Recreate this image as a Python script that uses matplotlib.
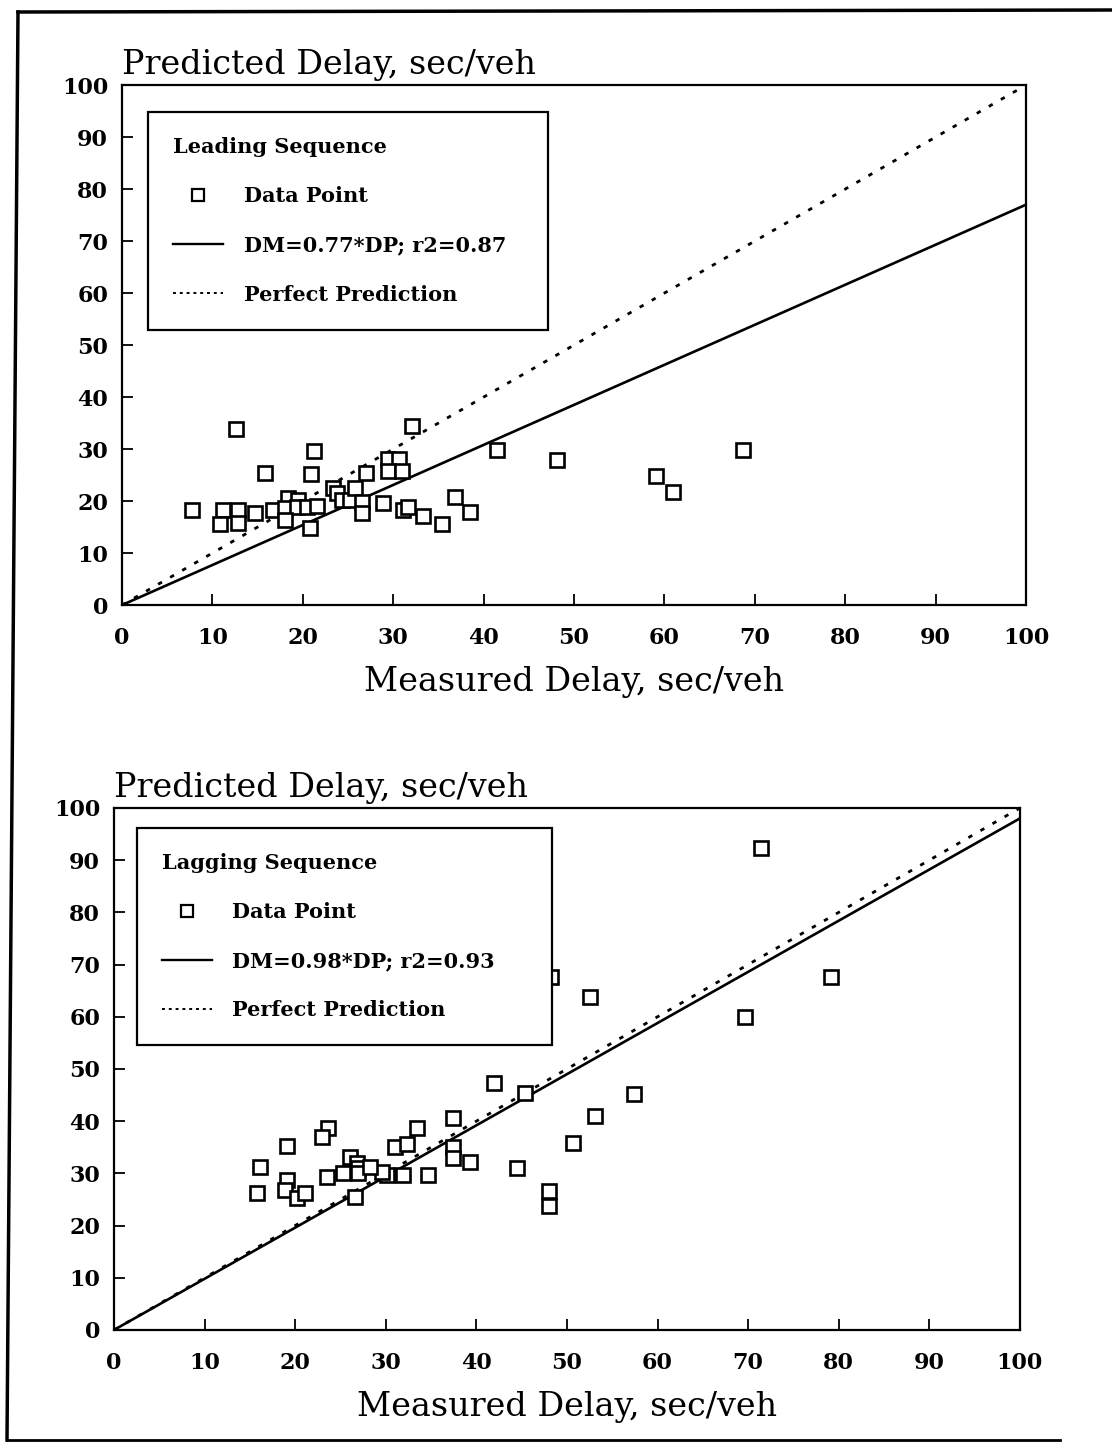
import matplotlib
matplotlib.use("Agg")
import matplotlib.pyplot as plt
from matplotlib.lines import Line2D

# leading sequence: measured vs predicted delay (sec/veh)
lead_measured = [7.7, 11.2, 12.8, 10.8, 12.8, 12.6, 14.7, 15.8, 16.7, 18.4, 19.5,
                 18.0, 19.4, 20.5, 21.6, 18.0, 20.8, 20.9, 21.2, 23.3, 23.8, 24.3,
                 25.2, 25.8, 26.5, 26.5, 27.0, 28.9, 29.4, 30.6, 29.4, 31.0, 31.1,
                 31.6, 32.1, 33.3, 35.4, 36.8, 38.5, 41.5, 48.1, 59.1, 60.9, 68.7]
lead_predicted = [18.3, 18.3, 18.3, 15.6, 15.8, 33.8, 17.7, 25.4, 18.3, 20.6, 20.2,
                  18.7, 18.8, 18.8, 19.0, 16.3, 14.8, 25.2, 29.6, 22.5, 21.5, 20.2,
                  20.2, 22.5, 19.8, 17.7, 25.4, 19.6, 28.1, 28.1, 25.8, 25.8, 18.3,
                  18.8, 34.4, 17.1, 15.6, 20.8, 17.9, 29.8, 27.9, 24.8, 21.7, 29.8]
lead_slope = 0.77
lead_r2 = 0.87

# lagging sequence
lag_measured = [71.4, 79.1, 69.6, 52.5, 48.2, 42.0, 45.4, 57.4, 53.1, 50.7, 44.5,
                48.0, 48.0, 37.4, 33.4, 23.6, 23.0, 19.1, 31.0, 32.3, 37.4, 37.4,
                39.3, 34.7, 31.9, 30.1, 29.6, 26.0, 26.8, 26.9, 26.9, 28.3, 25.3,
                23.5, 26.6, 16.1, 15.8, 19.1, 18.9, 20.2, 21.1]
lag_predicted = [92.3, 67.6, 60.0, 63.8, 67.6, 47.3, 45.4, 45.2, 41.0, 35.8, 31.0,
                 26.6, 23.8, 40.6, 38.7, 38.7, 37.0, 35.3, 35.0, 35.6, 35.0, 33.0,
                 32.2, 29.7, 29.7, 29.7, 30.3, 33.1, 32.0, 31.0, 30.0, 31.2, 30.0,
                 29.3, 25.5, 31.2, 26.2, 28.7, 26.8, 25.3, 26.2]
lag_slope = 0.98
lag_r2 = 0.93

ticks = [0, 10, 20, 30, 40, 50, 60, 70, 80, 90, 100]

plt.rcParams['font.family'] = 'DejaVu Serif'

fig = plt.figure(figsize=(11.12, 14.42), dpi=100)
ax_top = fig.add_axes([0.1097, 0.5804, 0.813, 0.3606])
ax_bot = fig.add_axes([0.1025, 0.0777, 0.8147, 0.362])


def draw_panel(ax, xs, ys, slope, r2, title, legend_box):
    ax.plot(xs, ys, linestyle='none', marker='s', markersize=9.5,
            markerfacecolor='white', markeredgecolor='black',
            markeredgewidth=1.9, zorder=3)
    ax.plot([0, 100], [0, 100 * slope], color='black', linewidth=1.9, zorder=2)
    ax.plot([0, 100], [0, 100], color='black', linewidth=2.0,
            linestyle=(0, (1.6, 3.4)), zorder=2)
    ax.set_xlim(0, 100)
    ax.set_ylim(0, 100)
    ax.set_xticks(ticks)
    ax.set_yticks(ticks)
    ax.tick_params(direction='in', length=8, width=1.3, labelsize=16,
                   top=False, right=False)
    ax.tick_params(axis='x', pad=16)
    ax.tick_params(axis='y', pad=10)
    for lab in ax.get_xticklabels() + ax.get_yticklabels():
        lab.set_fontweight('bold')
    for sp in ax.spines.values():
        sp.set_linewidth(1.6)
    ax.set_xlabel('Measured Delay, sec/veh', fontsize=24, labelpad=12)
    ax.text(0, 1.008, 'Predicted Delay, sec/veh', transform=ax.transAxes,
            fontsize=24, ha='left', va='bottom')

    handles = [
        Line2D([], [], linestyle='none', marker='s', markersize=8,
               markerfacecolor='white', markeredgecolor='black',
               markeredgewidth=1.6),
        Line2D([], [], color='black', linewidth=1.7),
        Line2D([], [], color='black', linewidth=1.4, linestyle=(0, (1.5, 2))),
    ]
    labels = ['Data Point',
              'DM=%.2f*DP; r2=%.2f' % (slope, r2),
              'Perfect Prediction']
    leg = ax.legend(handles, labels, title=title, loc='upper left',
                    bbox_to_anchor=legend_box, mode='expand', borderaxespad=0,
                    alignment='left', frameon=True, fancybox=False,
                    edgecolor='black', framealpha=1, borderpad=1.2,
                    labelspacing=1.4, handlelength=2.4, handletextpad=1.0,
                    prop={'size': 15, 'weight': 'bold'},
                    title_fontproperties={'size': 15, 'weight': 'bold'})
    leg.get_frame().set_linewidth(1.6)
    leg.set_zorder(5)


draw_panel(ax_top, lead_measured, lead_predicted, lead_slope, lead_r2,
           'Leading Sequence', (0.029, 0.533, 0.442, 0.415))
draw_panel(ax_bot, lag_measured, lag_predicted, lag_slope, lag_r2,
           'Lagging Sequence', (0.025, 0.536, 0.458, 0.426))

# page border around both panels
fig.add_artist(Line2D([18 / 1112, 7 / 1112], [1 - 12 / 1442, 1 - 1440 / 1442],
                      color='black', linewidth=2.5, transform=fig.transFigure))
fig.add_artist(Line2D([18 / 1112, 1.0], [1 - 12 / 1442, 1 - 10 / 1442],
                      color='black', linewidth=2.5, transform=fig.transFigure))
fig.add_artist(Line2D([7 / 1112, 1060 / 1112], [1 - 1440 / 1442, 1 - 1440 / 1442],
                      color='black', linewidth=2.0, transform=fig.transFigure))

fig.savefig('out.png', dpi=100)
